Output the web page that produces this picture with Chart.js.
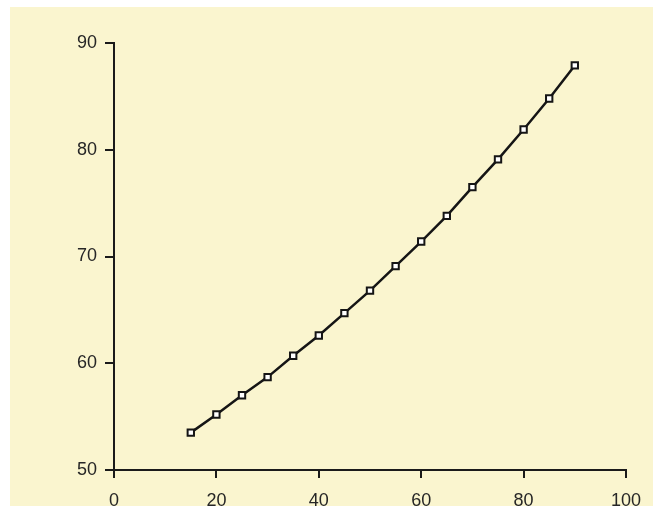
<!DOCTYPE html>
<html>
<head>
<meta charset="utf-8">
<script src="https://cdn.jsdelivr.net/npm/chart.js@4/dist/chart.umd.min.js"></script>
<style>
html,body{margin:0;padding:0;background:#ffffff;}
#wrap{width:654px;height:506px;}
</style>
</head>
<body>
<div id="wrap"><canvas id="c" width="654" height="506"></canvas></div>
<script>
const xValues = [15, 20, 25, 30, 35, 40, 45, 50, 55, 60, 65, 70, 75, 80, 85, 90];
const yValues = [53.5, 55.2, 57.0, 58.7, 60.7, 62.6, 64.7, 66.8, 69.1, 71.4, 73.8, 76.5, 79.1, 81.9, 84.8, 87.9];
const xTicks = [0, 20, 40, 60, 80, 100];
const yTicks = [50, 60, 70, 80, 90];

const points = xValues.map((x, i) => ({x: x, y: yValues[i]}));

const bgPlugin = {
  id: 'bg',
  beforeDraw(chart) {
    const ctx = chart.ctx;
    ctx.save();
    ctx.fillStyle = '#faf5cf';
    ctx.fillRect(10, 7, chart.width - 11, chart.height - 7);
    ctx.restore();
  }
};

new Chart(document.getElementById('c'), {
  type: 'scatter',
  data: {
    datasets: [{
      data: points,
      showLine: true,
      borderColor: '#151515',
      borderWidth: 2.5,
      pointStyle: 'rect',
      pointRadius: 4.5,
      pointBackgroundColor: '#ffffff',
      pointBorderColor: '#151515',
      pointBorderWidth: 2,
      tension: 0
    }]
  },
  options: {
    responsive: false,
    animation: false,
    devicePixelRatio: 1,
    layout: {padding: {top: 43, right: 28, left: 0, bottom: 0}},
    plugins: {legend: {display: false}, tooltip: {enabled: false}},
    scales: {
      x: {
        type: 'linear',
        min: 0, max: 100,
        afterBuildTicks(axis) { axis.ticks = xTicks.map(v => ({value: v})); },
        afterFit(axis) { axis.height = 36; },
        grid: {display: true, drawOnChartArea: false, drawTicks: true, tickLength: 8, color: '#1a1a1a', lineWidth: 2},
        border: {display: true, color: '#1a1a1a', width: 2},
        ticks: {color: '#262626', font: {family: 'Liberation Sans, Arial, sans-serif', size: 18}, padding: 12, maxRotation: 0}
      },
      y: {
        type: 'linear',
        min: 50, max: 90,
        afterBuildTicks(axis) { axis.ticks = yTicks.map(v => ({value: v})); },
        afterFit(axis) { axis.width = 114; },
        grid: {display: true, drawOnChartArea: false, drawTicks: true, tickLength: 9, color: '#1a1a1a', lineWidth: 2},
        border: {display: true, color: '#1a1a1a', width: 2},
        ticks: {color: '#262626', font: {family: 'Liberation Sans, Arial, sans-serif', size: 18}, padding: 8}
      }
    }
  },
  plugins: [bgPlugin]
});
</script>
</body>
</html>
